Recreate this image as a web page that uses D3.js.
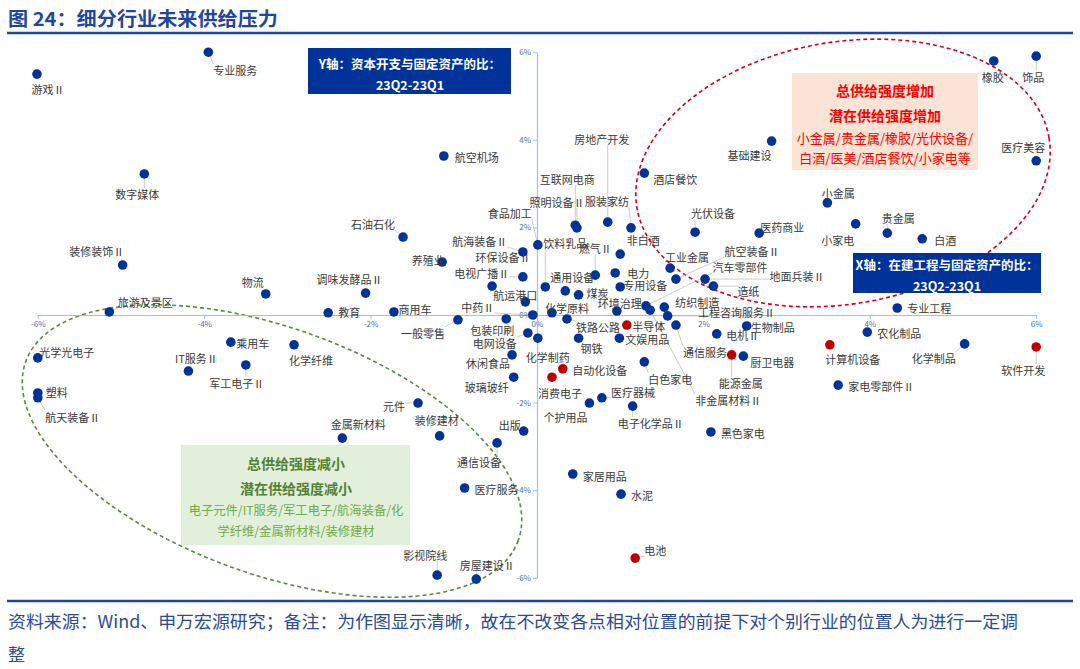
<!DOCTYPE html>
<html><head><meta charset="utf-8">
<script src="https://cdn.jsdelivr.net/npm/d3@7"></script>
<style>
body{margin:0;background:#fff}
svg{display:block}
text{font-family:"Noto Sans CJK SC","Noto Sans",sans-serif}
</style>
</head><body>
<svg id="c" width="1080" height="669"></svg>
<script>
// ---------- data ----------
const names = ["游戏Ⅱ","专业服务","数字媒体","装修装饰Ⅱ","物流","旅游及景区","教育","商用车","调味发酵品Ⅱ","养殖业","石油石化","航空机场",
"航海装备Ⅱ","环保设备Ⅱ","电视广播Ⅱ","航运港口","中药Ⅱ","食品加工","饮料乳品","通用设备","燃气Ⅱ","煤炭","化学原料","环境治理","电力","专用设备","非白酒","房地产开发","互联网电商","照明设备Ⅱ","服装家纺","酒店餐饮",
"基础建设","光伏设备","医药商业","工业金属","航空装备Ⅱ","汽车零部件","地面兵装Ⅱ","造纸","纺织制造","工程咨询服务Ⅱ","橡胶","饰品","医疗美容","小金属","小家电","贵金属","白酒","专业工程",
"光学光电子","塑料","航天装备Ⅱ","IT服务Ⅱ","乘用车","军工电子Ⅱ","化学纤维","一般零售","包装印刷","电网设备","休闲食品","玻璃玻纤","元件","金属新材料","装修建材","出版","通信设备","医疗服务","影视院线","房屋建设Ⅱ",
"化学制药","铁路公路","钢铁","半导体","文娱用品","通信服务","白色家电","非金属材料Ⅱ","电机Ⅱ","能源金属","厨卫电器","生物制品","自动化设备","消费电子","医疗器械","个护用品","电子化学品Ⅱ","黑色家电","家居用品","水泥","电池","农化制品","计算机设备","化学制品","软件开发","家电零部件Ⅱ"];

// X: 在建工程与固定资产的比 23Q2-23Q1 (%)
const xVals = [-6.01,-3.95,-4.72,-4.98,-3.26,-5.14,-2.51,-1.72,-2.06,-1.14,-1.61,-1.12,
-0.17,-0.54,-0.17,-0.14,-0.05,0.01,0.10,0.34,0.70,0.50,0.18,0.96,0.94,1.00,1.00,0.85,0.46,0.48,1.13,1.29,
2.82,1.90,2.67,1.60,1.67,1.31,2.02,2.12,1.53,1.57,5.49,6.00,6.00,3.49,3.83,4.21,4.63,4.33,
-6.00,-6.00,-6.00,-4.19,-3.68,-3.50,-2.92,-0.95,-0.37,-0.11,-0.30,-0.28,-1.43,-2.34,-1.17,-0.16,-0.48,-0.87,-1.20,-0.73,
0.01,0.36,0.50,1.08,0.99,1.67,1.29,1.36,2.16,2.34,2.48,2.52,0.31,0.18,0.78,0.63,1.15,2.09,0.43,1.01,1.18,3.97,3.52,5.14,6.00,3.62];

// Y: 资本开支与固定资产的比 23Q2-23Q1 (%)
const yVals = [5.50,6.00,3.22,1.14,0.48,0.07,0.05,0.07,0.50,1.21,1.78,3.63,
1.44,0.66,0.87,0.30,0.00,1.60,0.64,0.55,0.91,0.46,0.05,0.09,0.96,0.64,1.39,2.12,2.05,1.99,1.99,3.24,
3.97,1.89,1.87,1.07,0.82,0.21,0.82,0.66,0.18,-0.02,5.80,5.91,3.52,2.56,2.08,1.87,1.74,0.16,
-0.98,-1.78,-1.89,-1.28,-0.62,-1.14,-0.68,-0.11,-0.09,-0.41,-0.91,-1.42,-2.01,-2.81,-2.76,-2.65,-2.92,-3.95,-5.94,-6.03,
-0.53,-0.09,-0.53,-0.23,-0.53,-0.23,-1.07,0.11,-0.43,-0.91,-0.94,-0.25,-1.23,-1.42,-1.89,-2.01,-2.08,-2.67,-3.63,-4.09,-5.55,-0.39,-0.68,-0.66,-0.73,-1.60];

const highlighted = ["半导体","能源金属","自动化设备","消费电子","电池","计算机设备","软件开发"];

const tickVals = [-6,-4,-2,0,2,4,6];

const titleText = "图 24：细分行业未来供给压力";
const yBoxLines = ["Y轴：资本开支与固定资产的比：","23Q2-23Q1"];
const xBoxLines = ["X轴：在建工程与固定资产的比：","23Q2-23Q1"];
const redBoxLines = ["总供给强度增加","潜在供给强度增加","小金属/贵金属/橡胶/光伏设备/","白酒/医美/酒店餐饮/小家电等"];
const greenBoxLines = ["总供给强度减小","潜在供给强度减小","电子元件/IT服务/军工电子/航海装备/化","学纤维/金属新材料/装修建材"];
const footLines = ["资料来源：Wind、申万宏源研究；备注：为作图显示清晰，故在不改变各点相对位置的前提下对个别行业的位置人为进行一定调","整"];

// ---------- label layout (pixel offsets of label centre from dot, leader flag) ----------
const labelLayout = [[11,15,0],[27,18,1],[-7,20,1],[-26,-14,0],[-13,-12,0],[36,-10,1],[21,-1,0],[21,-3,0],[-16,-14,0],[-14,-2,0],[-30,-13,1],[33,1,0],
[-43,-11,1],[11,-29,0],[-41,-4,1],[-10,-7,0],[-55,-8,1],[-28,-32,1],[20,-44,1],[7,-14,0],[0,-27,1],[19,-2,0],[15,-5,0],[3,-8,0],[23,0,0],[25,-2,0],[23,-14,0],[-6,-83,1],[-8,-46,1],[-20,-26,1],[-24,-27,1],[31,6,0],
[-22,14,0],[18,-19,1],[23,-6,0],[17,-11,0],[76,-28,1],[94,-39,1],[92,-3,1],[35,5,1],[33,-5,0],[69,-4,1],[-1,16,0],[-3,21,1],[-13,-14,0],[11,-10,0],[-18,16,0],[11,-15,1],[23,1,0],[32,0,0],
[29,-6,0],[19,-1,0],[35,19,1],[8,-13,0],[22,1,0],[-9,18,1],[17,15,0],[-35,13,1],[-14,11,0],[-33,10,1],[-24,8,0],[-27,10,0],[-24,3,1],[16,-14,0],[-3,-16,0],[-14,-6,0],[-18,19,1],[32,1,0],[-12,-20,1],[11,-14,1],
[10,19,1],[31,8,1],[13,10,0],[22,1,0],[28,1,0],[29,27,1],[26,17,1],[78,90,1],[26,1,0],[9,28,1],[29,6,0],[26,1,0],[37,1,0],[8,16,0],[31,-6,1],[-24,14,0],[18,17,1],[32,1,0],[32,2,0],[21,1,0],[20,-8,1],[32,1,0],[23,14,0],[-31,14,1],[-13,23,1],[43,1,0]];

// ---------- drawing ----------
const svg = d3.select("#c");
const navy = "#1f47a0";
const x = d3.scaleLinear().domain([-6,6]).range([37.8,1036.2]);
const y = d3.scaleLinear().domain([-6,6]).range([577.8,52.2]);

// title
svg.append("text").attr("x",8).attr("y",26).attr("font-size",19).attr("font-weight","bold")
  .attr("fill",navy).attr("textLength",270).attr("lengthAdjust","spacingAndGlyphs").text(titleText);
svg.append("line").attr("x1",7).attr("x2",1073).attr("y1",33).attr("y2",33).attr("stroke",navy).attr("stroke-width",2.5);
svg.append("line").attr("x1",7).attr("x2",1073).attr("y1",601).attr("y2",601).attr("stroke",navy).attr("stroke-width",2.5);

// footer
svg.append("text").attr("x",8).attr("y",628).attr("font-size",17).attr("fill","#2a4b9b")
  .attr("textLength",1010).attr("lengthAdjust","spacingAndGlyphs").text(footLines[0]);
svg.append("text").attr("x",8).attr("y",661).attr("font-size",17).attr("fill","#2a4b9b").text(footLines[1]);

// ellipses
svg.append("ellipse").attr("cx",843).attr("cy",173).attr("rx",209).attr("ry",131)
  .attr("transform","rotate(-9.7 843 173)").attr("fill","none").attr("stroke","#d0021b")
  .attr("stroke-width",1.6).attr("stroke-dasharray","4,3");
svg.append("ellipse").attr("cx",272).attr("cy",451).attr("rx",262).attr("ry",123)
  .attr("transform","rotate(20 272 451)").attr("fill","none").attr("stroke","#5b8a3a")
  .attr("stroke-width",1.6).attr("stroke-dasharray","4,3");

// boxes
function box(x0,y0,w,h,fill){ svg.append("rect").attr("x",x0).attr("y",y0).attr("width",w).attr("height",h).attr("fill",fill); }
box(308,48,203,46,"#003399");
yBoxLines.forEach((t,i)=>svg.append("text").attr("x",410).attr("y",63+i*21).attr("text-anchor","middle")
  .attr("dominant-baseline","central").attr("font-size",12.5).attr("font-weight","bold").attr("fill","#fff").text(t));
box(853,253,188,40,"#003399");
xBoxLines.forEach((t,i)=>svg.append("text").attr("x",947).attr("y",264+i*21).attr("text-anchor","middle")
  .attr("dominant-baseline","central").attr("font-size",12.5).attr("font-weight","bold").attr("fill","#fff").text(t));
box(792,73,186,97,"#fbe4d5");
redBoxLines.forEach((t,i)=>svg.append("text").attr("x",885).attr("y",[90,115,137,157][i]).attr("text-anchor","middle")
  .attr("dominant-baseline","central").attr("font-size",i<2?14:13).attr("font-weight",i<2?"bold":"normal").attr("fill","#ff0000").text(t));
box(181,445,229,100,"#e2efda");
greenBoxLines.forEach((t,i)=>svg.append("text").attr("x",296).attr("y",[463,488,510,531][i]).attr("text-anchor","middle")
  .attr("dominant-baseline","central").attr("font-size",i<2?14:12.3).attr("font-weight",i<2?"bold":"normal").attr("fill",i<2?"#548235":"#70ad47").text(t));

// axes
const axisColor = "#9dc3e6";
const gx = svg.append("g").attr("transform",`translate(0,${y(0)})`)
  .call(d3.axisBottom(x).tickValues(tickVals).tickFormat(d=>d+"%").tickSizeInner(4).tickSizeOuter(0).tickPadding(2));
const gy = svg.append("g").attr("transform",`translate(${x(0)},0)`)
  .call(d3.axisLeft(y).tickValues(tickVals).tickFormat(d=>d+"%").tickSizeInner(4).tickSizeOuter(0).tickPadding(2));
[gx,gy].forEach(g=>{
  g.select(".domain").attr("stroke",axisColor).attr("stroke-width",1.2);
  g.selectAll(".tick line").attr("stroke",axisColor);
  g.selectAll(".tick text").attr("fill","#4472c4").attr("font-size",8).attr("font-family","Roboto,'Noto Sans',sans-serif");
});

// points
const pts = names.map((n,i)=>({name:n,xv:xVals[i],yv:yVals[i],lay:labelLayout[i]}));
const gLead = svg.append("g");
const gDots = svg.append("g");
const gLab = svg.append("g");

gDots.selectAll("circle").data(pts).join("circle")
  .attr("cx",d=>x(d.xv)).attr("cy",d=>y(d.yv)).attr("r",4.8)
  .attr("fill",d=>highlighted.includes(d.name)?"#c00000":"#003399");

const labs = gLab.selectAll("text").data(pts).join("text")
  .attr("x",d=>x(d.xv)+d.lay[0]).attr("y",d=>y(d.yv)+d.lay[1])
  .attr("text-anchor","middle").attr("dominant-baseline","central")
  .attr("font-size",11).attr("fill","#3a3a3a").text(d=>d.name);

labs.each(function(d){
  if(!d.lay[2]) return;
  const bb = this.getBBox();
  const cx = x(d.xv), cy = y(d.yv);
  const px = Math.max(bb.x, Math.min(cx, bb.x+bb.width));
  const py = Math.max(bb.y+2, Math.min(cy, bb.y+bb.height-2));
  const dist = Math.hypot(px-cx, py-cy);
  if(dist < 6) return;
  const ux=(px-cx)/dist, uy=(py-cy)/dist;
  gLead.append("line").attr("x1",cx+ux*4).attr("y1",cy+uy*4).attr("x2",px).attr("y2",py)
    .attr("stroke","#bfbfbf").attr("stroke-width",0.8);
});
</script>
</body></html>
